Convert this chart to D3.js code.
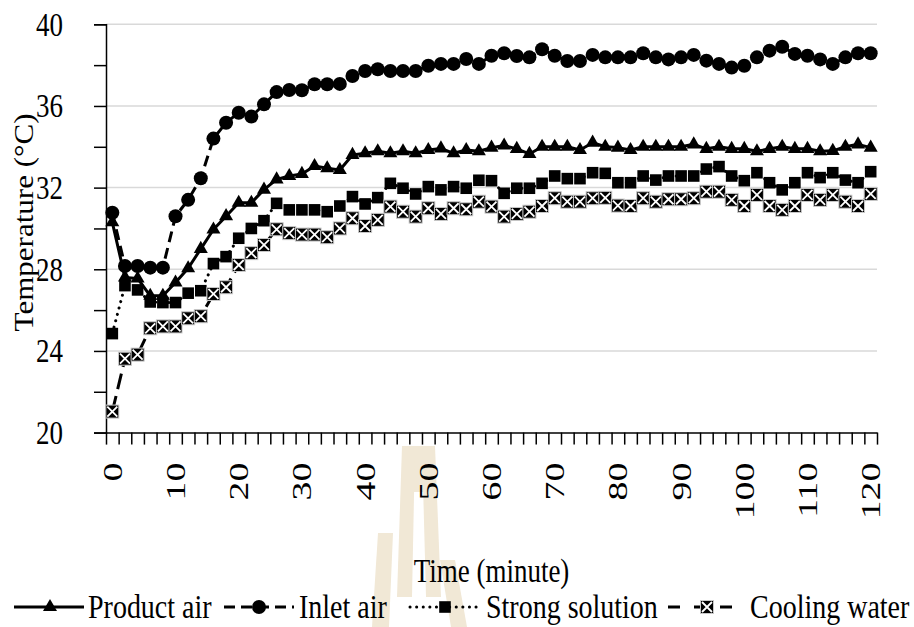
<!DOCTYPE html>
<html>
<head>
<meta charset="utf-8">
<script src="https://cdn.jsdelivr.net/npm/d3@7"></script>
<style>
html,body{margin:0;padding:0;background:#fff;}
text{font-family:"Liberation Serif","Times New Roman",serif;fill:#000;}
</style>
</head>
<body>
<svg id="chart" width="914" height="627"></svg>
<script>
// ---- data ----
const categories = [0,2,4,6,8,10,12,14,16,18,20,22,24,26,28,30,32,34,36,38,40,42,44,46,48,50,52,54,56,58,60,62,64,66,68,70,72,74,76,78,80,82,84,86,88,90,92,94,96,98,100,102,104,106,108,110,112,114,116,118,120];
const xTickLabels = [0,10,20,30,40,50,60,70,80,90,100,110,120];
const yTickLabels = [20,24,28,32,36,40];
const seriesNames = ["Product air","Inlet air","Strong solution","Cooling water"];

const productAir = [30.3,27.6,27.55,26.7,26.7,27.35,28.05,29.0,29.95,30.6,31.26,31.26,31.9,32.4,32.57,32.67,33.06,32.95,32.86,33.6,
  33.68,33.78,33.68,33.78,33.68,33.84,33.92,33.68,33.84,33.78,33.96,34.06,33.9,33.65,34.0,34.0,34.0,33.84,34.2,34.0,
  33.96,33.84,34.0,34.0,34.0,34.0,34.12,33.9,34.0,33.9,33.9,33.78,33.9,34.0,33.9,33.9,33.78,33.8,34.0,34.12,33.96];
const inletAir = [30.77,28.16,28.16,28.08,28.08,30.6,31.4,32.46,34.4,35.18,35.67,35.48,36.08,36.68,36.78,36.77,37.06,37.06,37.08,37.47,
  37.71,37.8,37.71,37.71,37.71,37.97,38.06,38.06,38.3,38.06,38.46,38.58,38.45,38.38,38.78,38.46,38.2,38.2,38.5,38.38,
  38.38,38.38,38.58,38.38,38.28,38.38,38.5,38.22,38.06,37.88,37.97,38.38,38.71,38.9,38.55,38.46,38.28,38.06,38.38,38.58,38.58];
const strongSolution = [24.85,27.2,26.99,26.4,26.37,26.37,26.83,26.95,28.28,28.62,29.52,30.0,30.38,31.23,30.91,30.91,30.91,30.82,31.1,31.56,
  31.2,31.51,32.21,31.97,31.69,32.05,31.89,32.05,31.97,32.36,32.34,31.72,31.97,31.97,32.21,32.57,32.44,32.44,32.73,32.7,
  32.24,32.24,32.57,32.37,32.57,32.57,32.57,32.91,33.03,32.57,32.34,32.73,32.24,31.89,32.24,32.73,32.49,32.73,32.37,32.24,32.78];
const coolingWater = [21.03,23.62,23.82,25.11,25.2,25.2,25.6,25.7,26.79,27.12,28.21,28.79,29.19,29.96,29.77,29.7,29.7,29.57,30.0,30.5,
  30.12,30.42,31.07,30.82,30.58,30.99,30.71,30.99,30.94,31.31,31.07,30.58,30.71,30.82,31.1,31.48,31.31,31.31,31.48,31.5,
  31.12,31.1,31.48,31.31,31.43,31.43,31.48,31.8,31.8,31.4,31.1,31.64,31.1,30.91,31.1,31.64,31.4,31.64,31.31,31.1,31.69];

// ---- layout ----
const svg = d3.select("#chart");
const L = 106, R = 877, T = 24.3, B = 432.6;
const FONT = 27, LFONT = 28, SY = 1.22, SXL = 1.4;
const FF = "Liberation Serif, Times New Roman, serif";

const x = d3.scaleLinear().domain([-1, 121]).range([L, R]);
const y = d3.scaleLinear().domain([20, 40]).range([B, T]);

// watermark (faint logo)
const wm = svg.append("g").attr("fill", "#f1e8d6");
[
  [[402,446],[435,446],[435,492],[402,492]],
  [[402,446],[415,446],[412,597],[397,597]],
  [[422,446],[435,446],[441,597],[426,597]],
  [[378,533],[393,533],[389,627],[372,627]],
  [[440,560],[455,560],[467,627],[451,627]]
].forEach(p => wm.append("polygon").attr("points", p.map(q => q.join(",")).join(" ")));

// gridlines
svg.append("g").selectAll("line").data(yTickLabels.filter(v => v > 20)).join("line")
  .attr("x1", L).attr("x2", R).attr("y1", d => y(d)).attr("y2", d => y(d))
  .attr("stroke", "#d9d9d9").attr("stroke-width", 1.5);

// y axis
const yAxis = d3.axisLeft(y).tickValues(d3.range(20, 41, 2)).tickSize(12).tickPadding(31)
  .tickFormat(d => yTickLabels.includes(d) ? d : "");
const gy = svg.append("g").attr("transform", `translate(${L},0)`).call(yAxis);
gy.attr("font-family", FF);
gy.select(".domain").attr("stroke", "#000").attr("stroke-width", 1.5);
gy.selectAll(".tick line").attr("stroke", "#000").attr("stroke-width", 1.5);
gy.selectAll(".tick text").each(function() {
  const t = d3.select(this);
  t.attr("font-size", FONT).attr("dy", null).attr("dominant-baseline", "central")
   .attr("transform", `translate(-43,0) scale(1,${SY})`).attr("x", 0);
});

// x axis: tick marks at category boundaries
const boundaries = d3.range(-1, 122, 2);
const xAxis = d3.axisBottom(x).tickValues(boundaries).tickSize(12).tickFormat("").tickSizeOuter(0);
const gx = svg.append("g").attr("transform", `translate(0,${B})`).call(xAxis);
gx.select(".domain").attr("stroke", "#000").attr("stroke-width", 1.5);
gx.selectAll(".tick line").attr("stroke", "#000").attr("stroke-width", 1.5);

// x tick labels (rotated)
const xLab = d3.axisBottom(x).tickValues(xTickLabels).tickSize(0).tickPadding(0);
const gxl = svg.append("g").attr("transform", `translate(0,${B})`).call(xLab);
gxl.attr("font-family", FF);
gxl.select(".domain").remove();
gxl.selectAll(".tick text")
  .attr("font-size", FONT)
  .attr("transform", `translate(0,30) rotate(-90) scale(${SXL},1)`)
  .attr("x", 0).attr("y", 0).attr("dy", null).attr("dominant-baseline", "central")
  .attr("text-anchor", "end");

// axis titles
svg.append("text").attr("transform", `translate(${(L + R) / 2},582) scale(1,${SY})`).attr("text-anchor", "middle")
  .attr("font-family", FF).attr("font-size", FONT).text("Time (minute)");
svg.append("text").attr("transform", `translate(33,${(T + B) / 2 - 6}) rotate(-90) scale(1.15,1)`)
  .attr("font-family", FF).attr("text-anchor", "middle").attr("font-size", FONT).text("Temperature (°C)");

// series
const series = [
  {name: seriesNames[0], values: productAir, dash: null, mark: "triangle"},
  {name: seriesNames[1], values: inletAir, dash: "11,6", mark: "circle"},
  {name: seriesNames[2], values: strongSolution, dash: "0.1,6.5", mark: "square"},
  {name: seriesNames[3], values: coolingWater, dash: "16,7", mark: "xsquare"}
];

function drawMarker(g, kind) {
  if (kind === "triangle") {
    g.append("path").attr("d", d3.symbol(d3.symbolTriangle, 85)()).attr("fill", "#000");
  } else if (kind === "circle") {
    g.append("circle").attr("r", 7).attr("fill", "#000");
  } else if (kind === "square") {
    g.append("rect").attr("x", -5.8).attr("y", -5.8).attr("width", 11.6).attr("height", 11.6).attr("fill", "#000");
  } else {
    g.append("rect").attr("x", -6.5).attr("y", -6.5).attr("width", 13).attr("height", 13)
      .attr("fill", "#000").attr("stroke", "#c8c8c8").attr("stroke-width", 1);
    g.append("path").attr("d", "M-5,-5L5,5M5,-5L-5,5").attr("stroke", "#fff").attr("stroke-width", 1.8);
  }
}

const line = d3.line().x((d, i) => x(categories[i])).y(d => y(d));
series.forEach(s => {
  const g = svg.append("g");
  g.append("path").attr("d", line(s.values)).attr("fill", "none").attr("stroke", "#000")
    .attr("stroke-width", 3).attr("stroke-linecap", s.mark === "square" ? "round" : "butt")
    .attr("stroke-linejoin", "round")
    .attr("stroke-dasharray", s.dash);
  s.values.forEach((v, i) => {
    const mg = g.append("g").attr("transform", `translate(${x(categories[i])},${y(v)})`);
    drawMarker(mg, s.mark);
  });
});

// legend
const legendItems = [
  {s: series[0], x1: 14, x2: 84, mx: 50, tx: 88},
  {s: series[1], x1: 224, x2: 294, mx: 259, tx: 299},
  {s: series[2], x1: 410, x2: 480, mx: 445, tx: 486},
  {s: series[3], x1: 668, x2: 732, mx: 707, tx: 750}
];
const LY = 607;
legendItems.forEach(it => {
  const g = svg.append("g");
  g.append("line").attr("x1", it.x1).attr("x2", it.x2).attr("y1", LY).attr("y2", LY)
    .attr("stroke", "#000").attr("stroke-width", 3)
    .attr("stroke-linecap", it.s.mark === "square" ? "round" : "butt")
    .attr("stroke-dasharray", it.s.mark === "xsquare" ? "12,14" : it.s.dash);
  const mg = g.append("g").attr("transform", `translate(${it.mx},${LY})`);
  drawMarker(mg, it.s.mark);
  g.append("text").attr("transform", `translate(${it.tx},${LY + 11}) scale(1,${SY})`)
    .attr("font-family", FF).attr("font-size", LFONT).text(it.s.name);
});
</script>
</body>
</html>
